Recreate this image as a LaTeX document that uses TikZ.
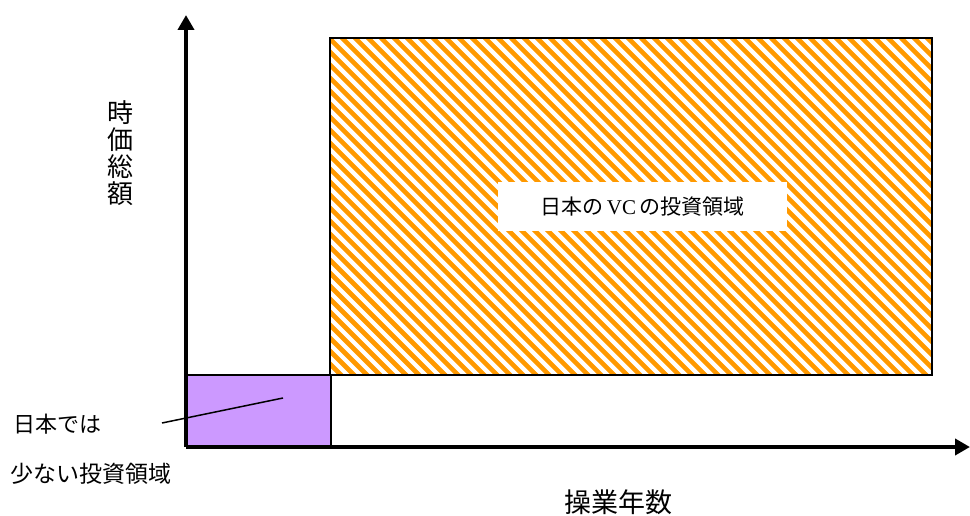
\documentclass[tikz,border=0pt]{standalone}
\usepackage{fontspec}
\setmainfont{Liberation Serif}
\newfontfamily\jp{Noto Sans CJK JP}
\usetikzlibrary{arrows.meta}
\definecolor{stripeorange}{HTML}{FF9900}
\definecolor{lavender}{HTML}{CC99FF}
\begin{document}
\begin{tikzpicture}[x=1pt,y=-1pt,
  axis/.style={line width=4pt,-{Triangle[length=15pt,width=16pt]}},
  regionbox/.style={draw=black,line width=2pt,inner sep=0pt,anchor=north west},
  stripe/.style={stripeorange,line width=4.6pt},
  labelbox/.style={fill=white,inner sep=0pt,minimum width=289pt,minimum height=49pt},
  jptext/.style={font=\jp,inner sep=0pt}]
\useasboundingbox (0,0) rectangle (970,516);
% orange hatched region
\node[regionbox,draw=none,minimum width=600pt,minimum height=335pt] (vc) at (330,38) {};
\begin{scope}
  \clip (vc.north west) rectangle (vc.south east);
  \foreach \i in {-347,-334,...,610} {
    \draw[stripe] (330+\i,30) -- ++(420,420);
  }
\end{scope}
\draw[line width=2pt] (vc.north west) rectangle (vc.south east);
\node[labelbox] (vclabel) at (642.5,206.5) {\fontsize{21pt}{24pt}\selectfont\jp 日本の\,{\rmfamily VC}\,の投資領域};
% purple region
\node[regionbox,fill=lavender,minimum width=144pt,minimum height=72pt] (small) at (186,374) {};
% axes
\coordinate (O) at (186,447);
\coordinate (ytip) at (186,15);
\coordinate (xtip) at (970,447);
\draw[axis] (O) -- (ytip);
\draw[axis] (O) -- (xtip);
% labels
\node[jptext,align=center,font=\jp\fontsize{26pt}{27pt}\selectfont] (ylab) at (120,153) {時\\価\\総\\額};
\node[jptext,font=\jp\fontsize{27pt}{30pt}\selectfont] (xlab) at (618,502) {操業年数};
\node[jptext,anchor=west,font=\jp\fontsize{22pt}{24pt}\selectfont] (few1) at (13,424) {日本では};
\node[jptext,anchor=west,font=\jp\fontsize{23pt}{25pt}\selectfont] (few2) at (10,474) {少ない投資領域};
% leader
\coordinate (leadA) at (162,423);
\coordinate (leadB) at (283,398);
\draw[line width=1.5pt] (leadA) -- (leadB);
\end{tikzpicture}
\end{document}
